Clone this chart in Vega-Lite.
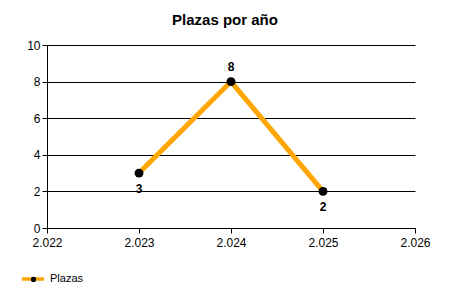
{
  "$schema": "https://vega.github.io/schema/vega-lite/v6.json",
  "width": 368,
  "height": 183,
  "autosize": {"type": "none"},
  "padding": {"left": 47, "top": 45, "right": 35, "bottom": 72},
  "background": "white",
  "title": {
    "text": "Plazas por año",
    "font": "Liberation Sans",
    "fontSize": 15,
    "fontWeight": "bold",
    "color": "black",
    "anchor": "middle",
    "dx": -6,
    "offset": 11
  },
  "config": {
    "view": {"stroke": null},
    "axis": {
      "labelFont": "Liberation Sans",
      "labelFontSize": 12,
      "labelColor": "black",
      "domainColor": "black",
      "tickColor": "black",
      "tickSize": 5,
      "titleFontSize": 0
    }
  },
  "data": {
    "values": [
      {"anio": 2023, "plazas": 3, "serie": "Plazas"},
      {"anio": 2024, "plazas": 8, "serie": "Plazas"},
      {"anio": 2025, "plazas": 2, "serie": "Plazas"}
    ]
  },
  "encoding": {
    "x": {
      "field": "anio",
      "type": "quantitative",
      "title": null,
      "scale": {"domain": [2022, 2026], "nice": false, "zero": false},
      "axis": {
        "values": [2022, 2023, 2024, 2025, 2026],
        "grid": false,
        "labelExpr": "replace(format(datum.value, ',d'), ',', '.')",
        "labelPadding": 4,
        "labelFlush": false
      }
    },
    "y": {
      "field": "plazas",
      "type": "quantitative",
      "title": null,
      "scale": {"domain": [0, 10], "nice": false},
      "axis": {
        "values": [0, 2, 4, 6, 8, 10],
        "grid": true,
        "gridColor": "black",
        "gridOpacity": 1,
        "labelPadding": 2
      }
    }
  },
  "layer": [
    {
      "mark": {"type": "line", "strokeWidth": 5},
      "encoding": {
        "stroke": {
          "field": "serie",
          "type": "nominal",
          "scale": {"range": ["#FFA500"]},
          "legend": {
            "title": null,
            "orient": "none",
            "legendX": -27,
            "legendY": 221,
            "symbolType": "stroke",
            "symbolSize": 484,
            "symbolStrokeWidth": 3.5,
            "labelFont": "Liberation Sans",
            "labelFontSize": 11,
            "labelColor": "black",
            "labelOffset": 4
          }
        }
      }
    },
    {
      "mark": {"type": "point", "filled": true, "size": 80, "opacity": 1},
      "encoding": {
        "fill": {
          "field": "serie",
          "type": "nominal",
          "scale": {"domain": ["Plazas"], "range": ["black"]},
          "legend": {
            "title": null,
            "orient": "none",
            "legendX": -18.5,
            "legendY": 229.4,
            "zindex": 2,
            "symbolType": "circle",
            "symbolSize": 28,
            "symbolFillColor": "black",
            "symbolStrokeWidth": 0,
            "labelExpr": "''",
            "labelOffset": 4
          }
        }
      }
    },
    {
      "transform": [{"filter": "datum.plazas >= 5"}],
      "mark": {"type": "text", "dy": -15, "font": "Liberation Sans", "fontSize": 12, "fontWeight": "bold", "color": "black"},
      "encoding": {"text": {"field": "plazas", "type": "quantitative"}}
    },
    {
      "transform": [{"filter": "datum.plazas < 5"}],
      "mark": {"type": "text", "dy": 16, "font": "Liberation Sans", "fontSize": 12, "fontWeight": "bold", "color": "black"},
      "encoding": {"text": {"field": "plazas", "type": "quantitative"}}
    }
  ]
}
